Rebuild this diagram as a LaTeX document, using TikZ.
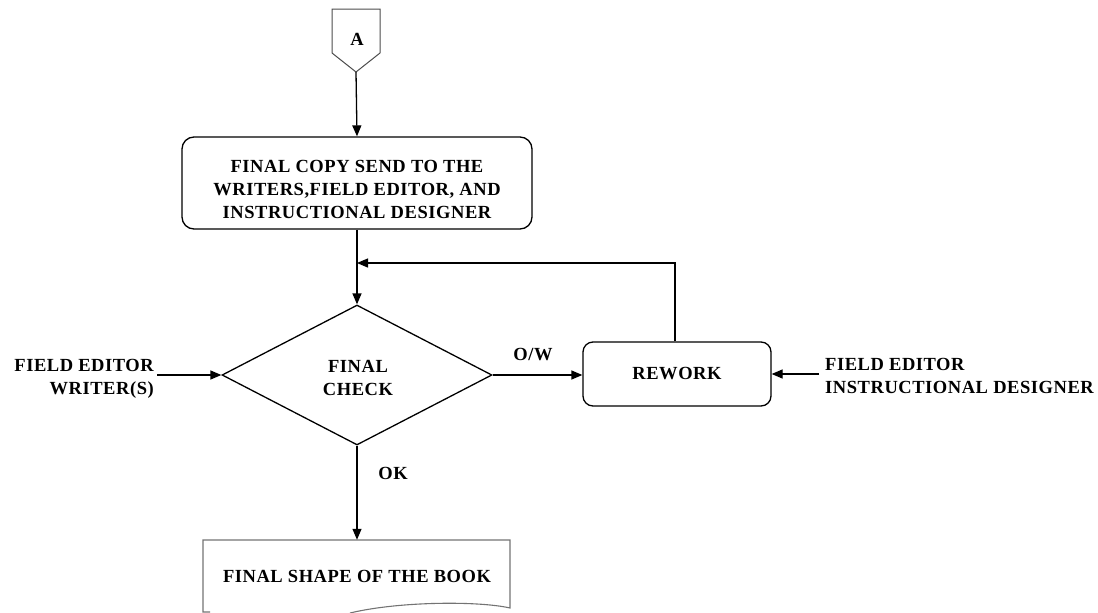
\documentclass[tikz,border=0pt]{standalone}
\usepackage{fontspec}
\setmainfont{Liberation Serif}[LetterSpace=3]
\usetikzlibrary{arrows.meta,shapes.geometric}
\begin{document}
\begin{tikzpicture}[x=1pt,y=-1pt,
  every node/.style={font=\fontsize{18.5}{23}\selectfont\bfseries, inner sep=0pt},
  conn/.style={line width=1.3pt, draw=black},
  arr/.style={conn, -{Triangle[length=11pt,width=9pt]}},
  roundbox/.style={draw=black, line width=1.3pt, rounded corners=12pt, align=center},
  decision/.style={draw=black, line width=1.3pt, diamond},
  lbl/.style={align=center},
  paper/.style={draw=black!55, line width=1.1pt}
]
\useasboundingbox (0,0) rectangle (1098,613);

% off-page connector A
\draw[conn, line width=1pt, draw=black!70] (332,9) -- (380,9) -- (380,53) -- (356,72) -- (332,53) -- cycle;
\node (A) at (357,39) {A};
\coordinate (Atip) at (356,72);

% process box and its text
\node[roundbox, minimum width=350pt, minimum height=92pt] (copy) at (357,183) {};
\node[lbl] (copytext) at (357,189)
  {FINAL COPY SEND TO THE\\WRITERS,FIELD EDITOR, AND\\INSTRUCTIONAL DESIGNER};

% decision and its text
\node[decision, minimum width=270pt, minimum height=140pt] (check) at (357,375) {};
\node[lbl] (checktext) at (358,378) {FINAL\\CHECK};

% rework box
\node[roundbox, rounded corners=10pt, minimum width=188pt, minimum height=64pt] (rework) at (677,374) {REWORK};

% outside inputs
\node[align=right, anchor=east] (inleft) at (154,379) {FIELD EDITOR\\WRITER(S)};
\node[align=left, anchor=west] (inright) at (825,376) {FIELD EDITOR\\INSTRUCTIONAL DESIGNER};

% branch labels
\node[lbl] (ow) at (533,355) {O/W};
\node[lbl] (ok) at (393,473) {OK};

% document shape (final output)
\node[minimum width=307pt, minimum height=72pt] (book) at (357,576) {FINAL SHAPE OF THE BOOK};
\draw[paper] (210,612) -- (203,612) -- (203,540) -- (510,540) -- (510,608)
  .. controls (480,601) and (400,601) .. (350,613);

% connectors
\coordinate (merge) at (357,263);
\draw[arr] (Atip) -- (copy.north);
\draw[arr] (copy.south) -- (check.north);
\draw[arr] (rework.north -| 675,0) |- (merge);
\draw[arr] ([xshift=3pt]inleft.east |- check.west) -- (check.west);
\draw[arr] (check.east) -- (check.east -| rework.west);
\draw[arr] ([xshift=-6pt]inright.west |- rework.east) -- (rework.east);
\draw[arr] (check.south) -- (book.north);
\end{tikzpicture}
\end{document}
